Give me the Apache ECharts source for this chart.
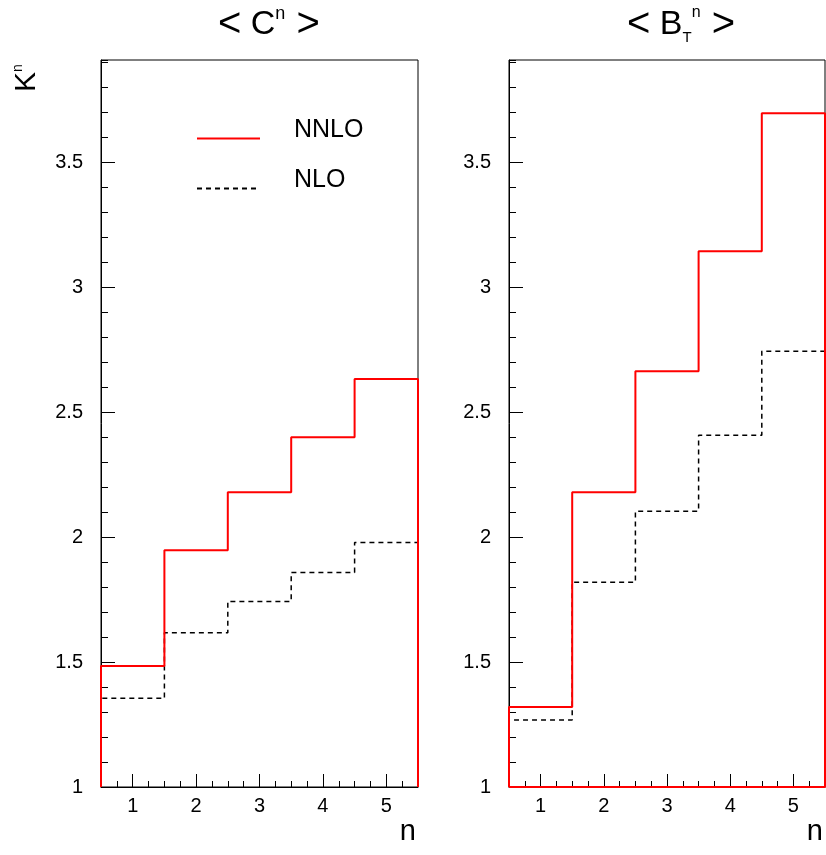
<!DOCTYPE html>
<html>
<head>
<meta charset="utf-8">
<script src="https://cdn.jsdelivr.net/npm/echarts@6/dist/echarts.min.js"></script>
<style>html,body{margin:0;padding:0;background:#fff}#c{width:826px;height:855px}</style>
</head>
<body>
<div id="c"></div>
<script>
// ---- data ----
const binEdges = [0.5, 1.5, 2.5, 3.5, 4.5, 5.5];
const xTickLabels = [1, 2, 3, 4, 5];
const yTickLabels = [1, 1.5, 2, 2.5, 3, 3.5];
const cNNLO = [1.484, 1.948, 2.180, 2.400, 2.633];
const cNLO = [1.355, 1.617, 1.743, 1.859, 1.979];
const bNNLO = [1.320, 2.180, 2.664, 3.144, 3.697];
const bNLO = [1.268, 1.820, 2.104, 2.408, 2.744];
const yMin = 1, yMax = 3.91;

const FONT = 'Liberation Sans, Arial, Helvetica, sans-serif';

function stepPoints(vals, close) {
  const pts = [[binEdges[0], yMin]];
  for (let i = 0; i < vals.length; i++) {
    pts.push([binEdges[i], vals[i]]);
    pts.push([binEdges[i + 1], vals[i]]);
  }
  pts.push([binEdges[binEdges.length - 1], yMin]);
  if (close) pts.push([binEdges[0], yMin]);
  return pts;
}

const chart = echarts.init(document.getElementById('c'), null, {renderer: 'canvas'});

const grids = [
  {left: 101, top: 60, width: 317, height: 727, show: true, borderColor: '#000', borderWidth: 1},
  {left: 509, top: 60, width: 317, height: 727, show: true, borderColor: '#000', borderWidth: 1}
];

const xAxes = [], yAxes = [];
for (let g = 0; g < 2; g++) {
  xAxes.push({
    gridIndex: g, type: 'value', min: binEdges[0], max: binEdges[binEdges.length - 1],
    axisLine: {show: true, onZero: false, lineStyle: {color: '#000', width: 1}},
    axisTick: {show: true, inside: true, length: 13, customValues: xTickLabels, lineStyle: {color: '#000'}},
    axisLabel: {show: true, customValues: xTickLabels, fontSize: 20, margin: 9, color: '#000', fontFamily: FONT},
    splitLine: {show: false},
    name: 'n', nameLocation: 'end', nameGap: -2,
    nameTextStyle: {fontSize: 29, color: '#000', fontFamily: FONT, align: 'right', verticalAlign: 'top', padding: [30, 0, 0, 0]}
  });
  xAxes.push({
    gridIndex: g, type: 'value', min: binEdges[0], max: binEdges[binEdges.length - 1], interval: 0.25,
    position: 'bottom', offset: 0,
    axisLine: {show: false},
    axisTick: {show: true, inside: true, length: 6, lineStyle: {color: '#000'}},
    axisLabel: {show: false}, splitLine: {show: false}
  });
  yAxes.push({
    gridIndex: g, type: 'value', min: yMin, max: yMax, position: 'left',
    axisLine: {show: true, onZero: false, lineStyle: {color: '#000', width: 1}},
    axisTick: {show: true, inside: true, length: 14, customValues: yTickLabels, lineStyle: {color: '#000'}},
    axisLabel: {show: true, customValues: yTickLabels, fontSize: 20, margin: 18, color: '#000', fontFamily: FONT},
    splitLine: {show: false}
  });
  yAxes.push({
    gridIndex: g, type: 'value', min: yMin, max: yMax, interval: 0.1, position: 'left', offset: 0,
    axisLine: {show: false},
    axisTick: {show: true, inside: true, length: 7, lineStyle: {color: '#000'}},
    axisLabel: {show: false}, splitLine: {show: false}
  });
}

const nloStyle = {color: '#000', width: 1.5, type: [5, 4]};
const nnloStyle = {color: '#ff0000', width: 2};

const series = [
  {name: 'NLO', type: 'line', xAxisIndex: 0, yAxisIndex: 0, data: stepPoints(cNLO, false),
   symbol: 'none', clip: false, lineStyle: nloStyle, itemStyle: {color: '#000'}, z: 2, animation: false},
  {name: 'NNLO', type: 'line', xAxisIndex: 0, yAxisIndex: 0, data: stepPoints(cNNLO, false),
   symbol: 'none', clip: false, lineStyle: nnloStyle, itemStyle: {color: '#ff0000'}, z: 3, animation: false},
  {name: 'NLO', type: 'line', xAxisIndex: 2, yAxisIndex: 2, data: stepPoints(bNLO, true),
   symbol: 'none', clip: false, lineStyle: nloStyle, itemStyle: {color: '#000'}, z: 2, animation: false},
  {name: 'NNLO', type: 'line', xAxisIndex: 2, yAxisIndex: 2, data: stepPoints(bNNLO, true),
   symbol: 'none', clip: false, lineStyle: nnloStyle, itemStyle: {color: '#ff0000'}, z: 3, animation: false}
];

const option = {
  backgroundColor: '#fff',
  animation: false,
  grid: grids,
  xAxis: xAxes,
  yAxis: yAxes,
  legend: {
    data: ['NNLO', 'NLO'], orient: 'vertical', left: 196, top: 118, padding: 0,
    itemWidth: 63, itemHeight: 14, itemGap: 9, selectedMode: false,
    itemStyle: {opacity: 0, color: 'rgba(0,0,0,0)', borderColor: 'rgba(0,0,0,0)', borderWidth: 0},
    formatter: '{t|{name}}',
    textStyle: {fontSize: 25, color: '#000', fontFamily: FONT,
      rich: {t: {fontSize: 25, lineHeight: 25, color: '#000', fontFamily: FONT, padding: [0, 0, 16, 29]}}}
  },
  graphic: [
    {type: 'text', left: 218, top: 5, z: 10,
     style: {text: '{b|<}{a| C}{s|n}{b| >}', fontFamily: FONT, fill: '#000',
       rich: {a: {fontSize: 34, lineHeight: 40, fontFamily: FONT, fill: '#000'},
              b: {fontSize: 40, lineHeight: 40, fontFamily: FONT, fill: '#000'},
              s: {fontSize: 18, lineHeight: 24, verticalAlign: 'top', fontFamily: FONT, fill: '#000'}}}},
    {type: 'text', left: 627, top: 5, z: 10,
     style: {text: '{b|<}{a| B}{t|T}{s|n}{b| >}', fontFamily: FONT, fill: '#000',
       rich: {a: {fontSize: 34, lineHeight: 40, fontFamily: FONT, fill: '#000'},
              b: {fontSize: 40, lineHeight: 40, fontFamily: FONT, fill: '#000'},
              t: {fontSize: 15, lineHeight: 18, verticalAlign: 'bottom', fontFamily: FONT, fill: '#000'},
              s: {fontSize: 16, lineHeight: 32, verticalAlign: 'top', fontFamily: FONT, fill: '#000'}}}},
    {type: 'text', x: 27, y: 78, rotation: Math.PI / 2, z: 10,
     style: {text: '{k|K}{s|n}', align: 'center', verticalAlign: 'middle', fontFamily: FONT, fill: '#000',
       rich: {k: {fontSize: 30, lineHeight: 32, fontFamily: FONT, fill: '#000'},
              s: {fontSize: 14, lineHeight: 18, verticalAlign: 'top', fontFamily: FONT, fill: '#000'}}}}
  ],
  series: series
};
chart.setOption(option);
</script>
</body>
</html>
